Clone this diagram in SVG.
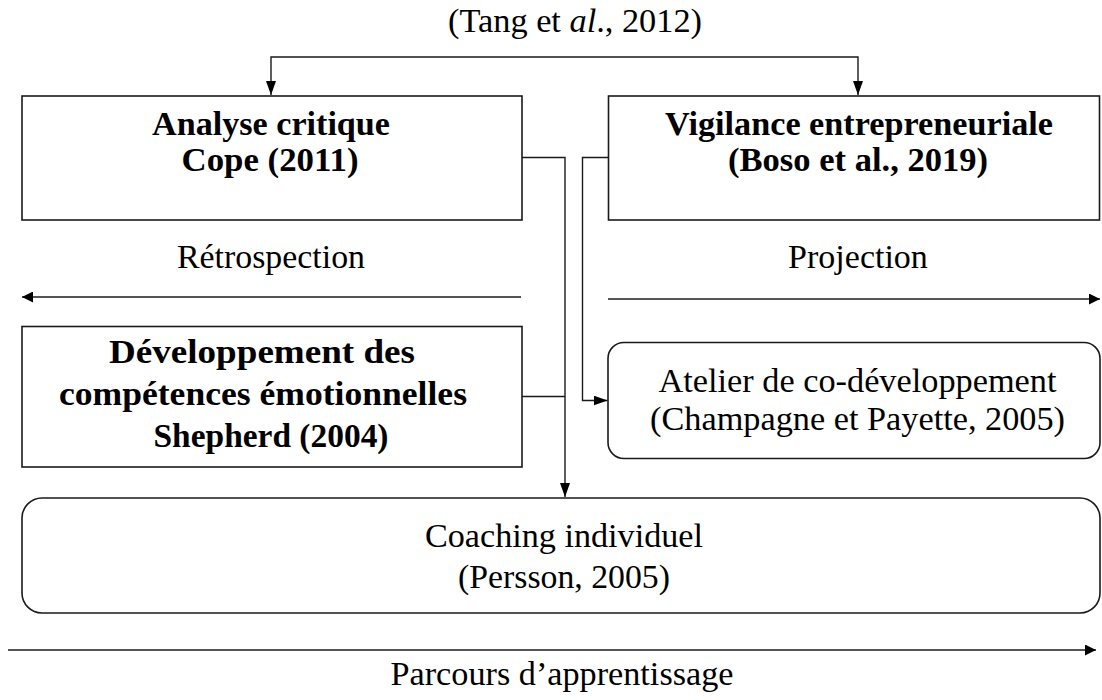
<svg xmlns="http://www.w3.org/2000/svg" width="1102" height="700" viewBox="0 0 1102 700">
<style>
  .box { fill: #ffffff; stroke: #1a1a1a; stroke-width: 1.6; }
  .ln { fill: none; stroke: #1a1a1a; stroke-width: 1.4; }
  .ax { fill: none; stroke: #555555; stroke-width: 1.8; }
  .t { font-family: "Liberation Serif", "Times New Roman", serif; font-size: 34px; fill: #000; text-anchor: middle; }
  .b { font-weight: bold; }
</style>
<defs>
  <marker id="ah" viewBox="0 0 14 10" refX="14" refY="5" markerWidth="14" markerHeight="10" markerUnits="userSpaceOnUse" orient="auto-start-reverse">
    <path d="M0,0 L14,5 L0,10 z" fill="#000"/>
  </marker>
  <marker id="ah2" viewBox="0 0 11 11" refX="11" refY="5.5" markerWidth="11" markerHeight="11" markerUnits="userSpaceOnUse" orient="auto">
    <path d="M0,0 L11,5.5 L0,11 z" fill="#000"/>
  </marker>
</defs>
<rect x="0" y="0" width="1102" height="700" fill="#ffffff"/>

<text class="t" x="575" y="32" textLength="254" lengthAdjust="spacingAndGlyphs">(Tang et <tspan font-style="italic">al</tspan>., 2012)</text>

<g id="connectors">
  <path class="ln" d="M271,95 L271,57 L858,57 L858,95" marker-start="url(#ah)" marker-end="url(#ah)"/>
  <path class="ln" d="M522,157.5 L565,157.5 L565,497" marker-end="url(#ah)"/>
  <path class="ln" d="M522,396.5 L565,396.5"/>
  <path class="ln" d="M608.5,157.5 L582.5,157.5 L582.5,400.5 L607.5,400.5" marker-end="url(#ah)"/>
  <path class="ax" d="M521,297 L22,297" marker-end="url(#ah2)"/>
  <path class="ax" d="M608,299 L1100,299" marker-end="url(#ah2)"/>
  <path class="ax" d="M8,650 L1096,650" marker-end="url(#ah2)"/>
</g>

<g id="analyse">
  <rect class="box" x="22" y="96" width="500" height="124"/>
  <text class="t b" x="271" y="135" textLength="238" lengthAdjust="spacingAndGlyphs">Analyse critique</text>
  <text class="t b" x="270" y="171" textLength="177" lengthAdjust="spacingAndGlyphs">Cope (2011)</text>
</g>

<g id="vigilance">
  <rect class="box" x="608.5" y="96" width="491" height="124"/>
  <text class="t b" x="859" y="135" textLength="388" lengthAdjust="spacingAndGlyphs">Vigilance entrepreneuriale</text>
  <text class="t b" x="858" y="171" textLength="260" lengthAdjust="spacingAndGlyphs">(Boso et al., 2019)</text>
</g>

<text id="retrospection" class="t" x="271" y="268" textLength="188" lengthAdjust="spacingAndGlyphs">Rétrospection</text>
<text id="projection" class="t" x="858" y="268">Projection</text>

<g id="developpement">
  <rect class="box" x="22" y="326.5" width="500" height="140.5"/>
  <text class="t b" x="262" y="363" textLength="306" lengthAdjust="spacingAndGlyphs">Développement des</text>
  <text class="t b" x="263" y="405" textLength="408" lengthAdjust="spacingAndGlyphs">compétences émotionnelles</text>
  <text class="t b" x="271" y="446.5" textLength="235" lengthAdjust="spacingAndGlyphs">Shepherd (2004)</text>
</g>

<g id="atelier">
  <rect class="box" x="608" y="342.5" width="492" height="116" rx="16" ry="16"/>
  <text class="t" x="857.5" y="391.5" textLength="398" lengthAdjust="spacingAndGlyphs">Atelier de co-développement</text>
  <text class="t" x="857.5" y="430" textLength="415" lengthAdjust="spacingAndGlyphs">(Champagne et Payette, 2005)</text>
</g>

<g id="coaching">
  <rect class="box" x="22" y="498" width="1078" height="115" rx="20" ry="20"/>
  <text class="t" x="564" y="546.5" textLength="278" lengthAdjust="spacingAndGlyphs">Coaching individuel</text>
  <text class="t" x="564" y="588" textLength="212" lengthAdjust="spacingAndGlyphs">(Persson, 2005)</text>
</g>

<text id="parcours" class="t" x="562" y="685" textLength="343" lengthAdjust="spacingAndGlyphs">Parcours d’apprentissage</text>
</svg>
